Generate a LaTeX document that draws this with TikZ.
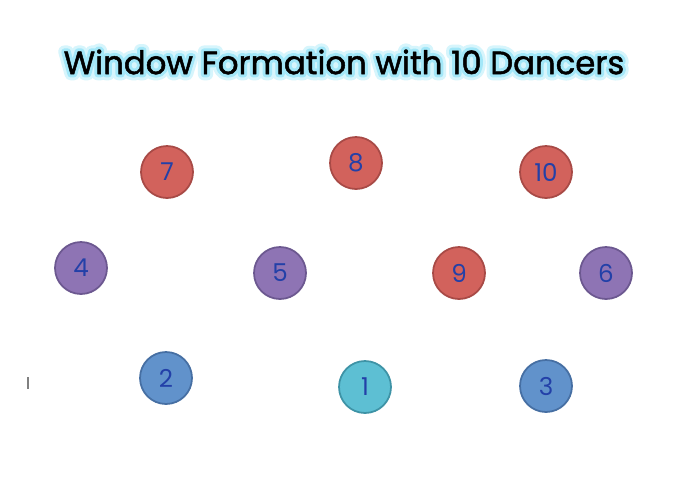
\documentclass[tikz,border=0pt]{standalone}
\usepackage{fontspec}
\setmainfont{Poppins}
\newfontfamily\glowfont[FakeBold=20,Color=A3E7F8]{Poppins}
\newfontfamily\haloFont[FakeBold=38,Color=D6F5FC]{Poppins}
\newfontfamily\titlefont[FakeBold=1.5]{Poppins}

\definecolor{numblue}{HTML}{2340A8}
\definecolor{redfill}{HTML}{D2625C}
\definecolor{reddraw}{HTML}{A84A46}
\definecolor{purplefill}{HTML}{8E74B4}
\definecolor{purpledraw}{HTML}{6C5890}
\definecolor{bluefill}{HTML}{6192CB}
\definecolor{bluedraw}{HTML}{466FA3}
\definecolor{cyanfill}{HTML}{5DBFD3}
\definecolor{cyandraw}{HTML}{3E93A6}

\newcommand{\glowtext}[1]{\special{pdf:literal 1 j 1 J}\rlap{\haloFont #1}\rlap{\glowfont #1}{\titlefont #1}}

\tikzset{
  dancer/.style={circle, line width=1pt, minimum size=1.04cm, inner sep=0pt,
    text=numblue, font=\fontsize{14}{14}\selectfont},
  reddancer/.style={dancer, fill=redfill, draw=reddraw},
  purpledancer/.style={dancer, fill=purplefill, draw=purpledraw},
  bluedancer/.style={dancer, fill=bluefill, draw=bluedraw},
  cyandancer/.style={dancer, fill=cyanfill, draw=cyandraw},
  titletext/.style={font=\fontsize{18.4}{18.4}\selectfont, line join=round}
}

\begin{document}
\begin{tikzpicture}[x=0.02cm,y=-0.02cm]
\useasboundingbox (0,0) rectangle (700,501);
\fill[white] (0,0) rectangle (700,501);
% title
\node[titletext] (title) at (344,62) {\glowtext{Window Formation with 10 Dancers}};
% back row
\node[reddancer] (d7) at (167,172) {7};
\node[reddancer] (d8) at (356,163) {8};
\node[reddancer] (d10) at (546,172) {10};
% middle row
\node[purpledancer] (d4) at (81,268) {4};
\node[purpledancer] (d5) at (280,273) {5};
\node[reddancer] (d9) at (459,273) {9};
\node[purpledancer] (d6) at (606,273) {6};
% front row
\node[bluedancer] (d2) at (166,378) {2};
\node[cyandancer] (d1) at (365,387) {1};
\node[bluedancer] (d3) at (546,386) {3};
% stray mark on the left
\draw[gray, line width=0.8pt] (28,377) -- (28,389);
\end{tikzpicture}
\end{document}
